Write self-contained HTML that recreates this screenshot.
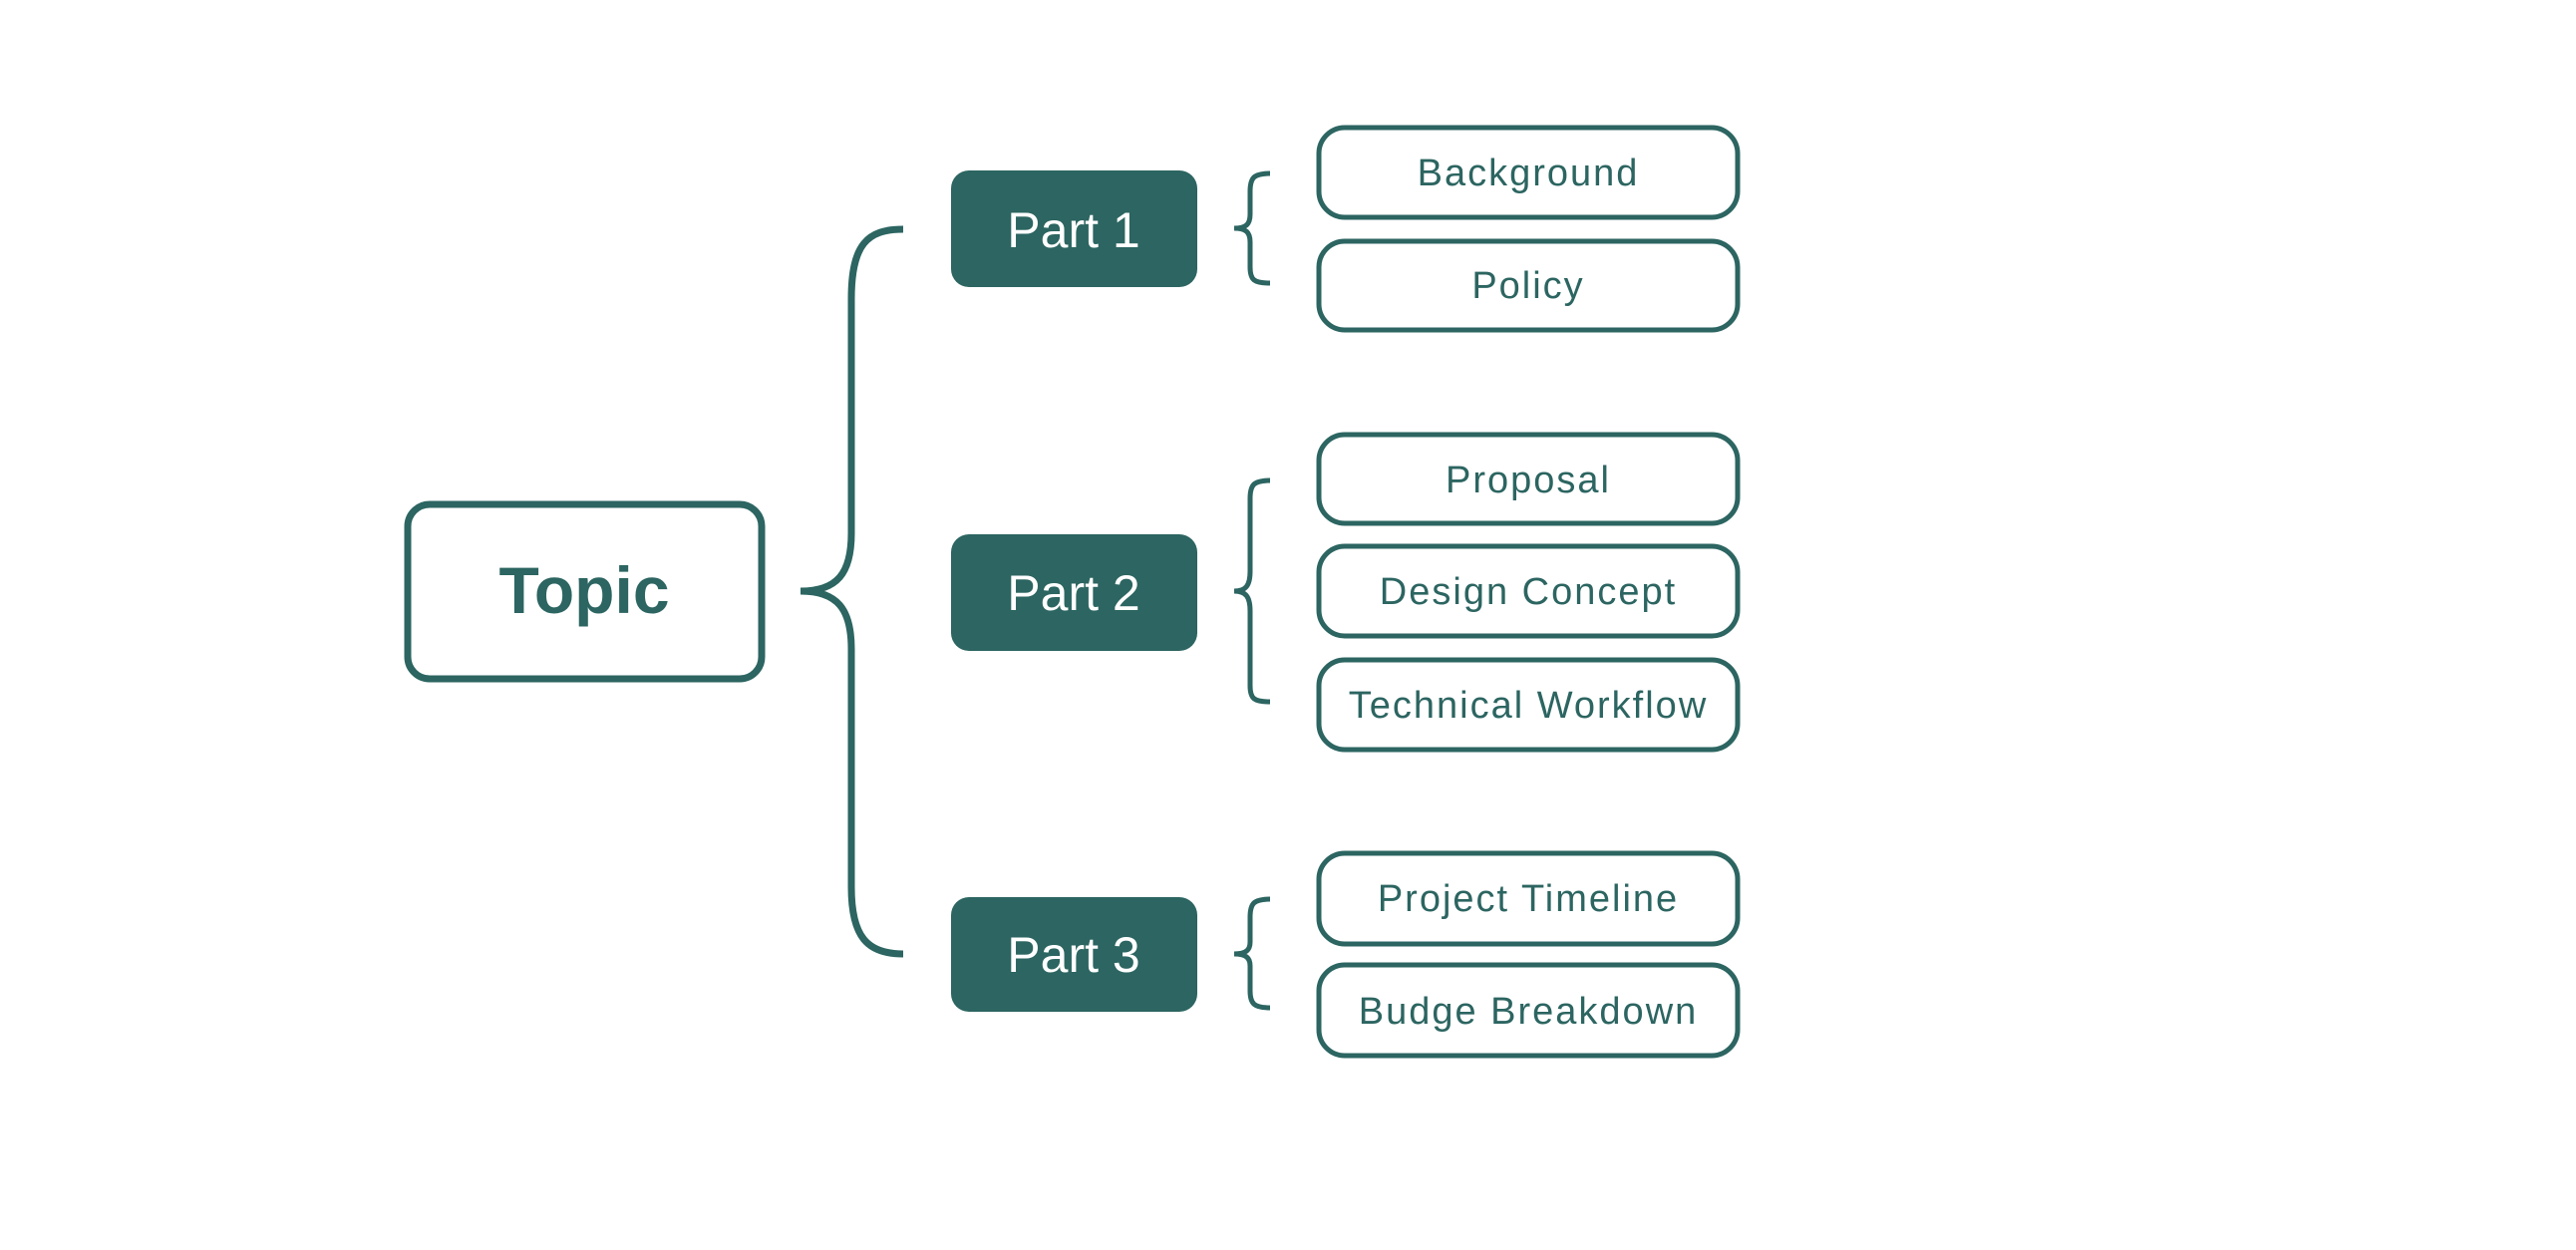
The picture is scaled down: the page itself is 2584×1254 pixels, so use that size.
<!DOCTYPE html>
<html><head><meta charset="utf-8"><style>
html,body{margin:0;padding:0;background:#fff;}
svg{display:block;}
text{font-family:"Liberation Sans",sans-serif;}
</style></head><body>
<svg width="2584" height="1254" viewBox="0 0 2584 1254" xmlns="http://www.w3.org/2000/svg">
<g fill="none" stroke="#2c6561" stroke-linecap="butt">
<path d="M906 230 C870 230 854 245 854 300 L854 535 C854 575 840 593 803 593 C840 593 854 611 854 651 L854 890 C854 940 870 957 906 957" stroke-width="7"/>
<path d="M1274 174 C1258 174 1254 178 1254 192 L1254 215 C1254 225 1250 229 1238 229 C1250 229 1254 233 1254 243 L1254 268 C1254 281 1258 284 1274 284" stroke-width="5"/>
<path d="M1274 482 C1258 482 1254 486 1254 500 L1254 573 C1254 587 1250 593 1238 593 C1250 593 1254 599 1254 613 L1254 688 C1254 701 1258 704 1274 704" stroke-width="5"/>
<path d="M1274 902 C1258 902 1254 906 1254 920 L1254 945 C1254 953 1250 957 1238 957 C1250 957 1254 961 1254 969 L1254 994 C1254 1007 1258 1011 1274 1011" stroke-width="5"/>
<rect x="409" y="506" width="355" height="175" rx="22" stroke-width="7"/>
<g stroke-width="5">
<rect x="1323" y="128" width="420" height="90" rx="26"/>
<rect x="1323" y="242" width="420" height="89" rx="26"/>
<rect x="1323" y="436" width="420" height="89" rx="26"/>
<rect x="1323" y="548" width="420" height="90" rx="26"/>
<rect x="1323" y="662" width="420" height="90" rx="26"/>
<rect x="1323" y="856" width="420" height="91" rx="26"/>
<rect x="1323" y="968" width="420" height="91" rx="26"/>
</g>
</g>
<g fill="#2c6561">
<rect x="954" y="171" width="247" height="117" rx="18"/>
<rect x="954" y="536" width="247" height="117" rx="18"/>
<rect x="954" y="900" width="247" height="115" rx="18"/>
</g>
<text x="586" y="615" font-size="66" font-weight="bold" fill="#2c6561" text-anchor="middle">Topic</text>
<g fill="#fff" font-size="50" text-anchor="middle">
<text x="1077" y="248">Part 1</text>
<text x="1077" y="612">Part 2</text>
<text x="1077" y="975">Part 3</text>
</g>
<g fill="#2c6561" font-size="38" text-anchor="middle" letter-spacing="2">
<text x="1533" y="186">Background</text>
<text x="1533" y="299">Policy</text>
<text x="1533" y="494">Proposal</text>
<text x="1533" y="606">Design Concept</text>
<text x="1533" y="720">Technical Workflow</text>
<text x="1533" y="914">Project Timeline</text>
<text x="1533" y="1027">Budge Breakdown</text>
</g>
</svg>
</body></html>
